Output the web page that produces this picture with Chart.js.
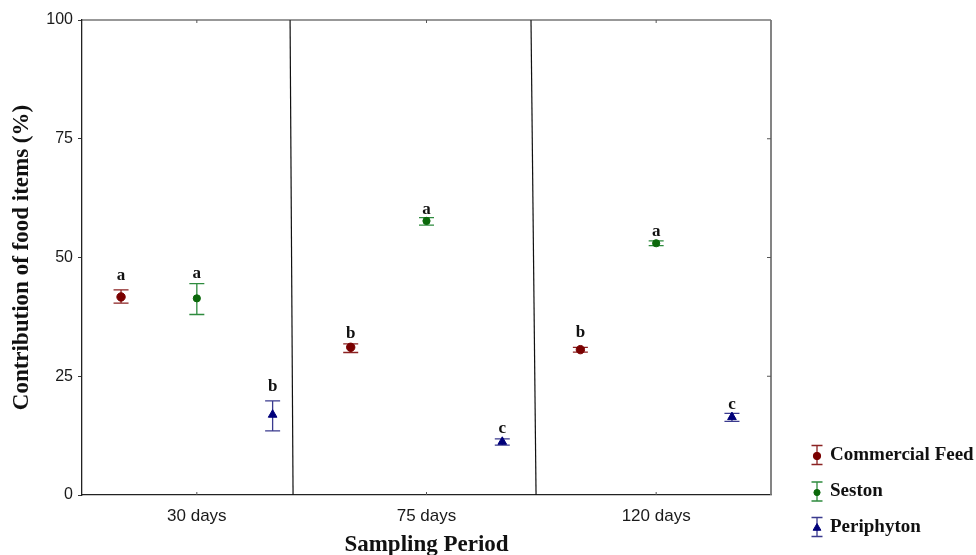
<!DOCTYPE html>
<html>
<head>
<meta charset="utf-8">
<script src="https://cdn.jsdelivr.net/npm/chart.js@4.4.1/dist/chart.umd.min.js"></script>
<style>
  html, body { margin: 0; padding: 0; background: #fff; }
  #wrap { width: 976px; height: 555px; position: relative; }
</style>
</head>
<body>
<div id="wrap"><canvas id="chart"></canvas></div>
<script>
// === Data ===
const periods = ['30 days', '75 days', '120 days'];
const yTicks = [0, 25, 50, 75, 100];

const feedMean = [41.7, 31.1, 30.6];
const feedLow = [40.4, 30.0, 30.1];
const feedHigh = [43.2, 31.8, 31.1];
const feedLetters = ['a', 'b', 'b'];
const feedLetterY = [46.2, 34.0, 34.2];

const sestonMean = [41.4, 57.7, 53.0];
const sestonLow = [38.0, 56.8, 52.5];
const sestonHigh = [44.5, 58.4, 53.5];
const sestonLetters = ['a', 'a', 'a'];
const sestonLetterY = [46.6, 60.0, 55.5];

const periMean = [16.9, 11.2, 16.4];
const periLow = [13.5, 10.5, 15.5];
const periHigh = [19.8, 11.8, 17.2];
const periLetters = ['b', 'c', 'c'];
const periLetterY = [22.8, 14.0, 19.0];

// hand drawn dividers between periods (x at top, x at bottom)
const dividerTop = [0.906, 1.955];
const dividerBottom = [0.919, 1.977];

// === Helpers ===
const SERIF = '"Liberation Serif", "Times New Roman", serif';
const SANS = '"Liberation Sans", Arial, sans-serif';

function points(values, shift) {
  return values.map((v, i) => ({ x: i + 0.5 + shift, y: v }));
}

function series(label, values, shift, low, high, letters, letterY, color, barColor, style, radius) {
  return {
    label, data: points(values, shift), low, high, letters, letterY, barColor,
    pointStyle: style, pointRadius: radius, backgroundColor: color,
    borderColor: color, borderWidth: 1, showLine: false
  };
}

function divider(i) {
  return {
    label: 'divider' + i,
    data: [{ x: dividerTop[i], y: 100 }, { x: dividerBottom[i], y: 0 }],
    showLine: true, pointRadius: 0, borderColor: '#111', borderWidth: 1.2
  };
}

const seriesList = [
  series('Commercial Feed', feedMean, -0.33, feedLow, feedHigh, feedLetters, feedLetterY, '#7a0000', '#8b2222', 'circle', 4.2),
  series('Seston', sestonMean, 0, sestonLow, sestonHigh, sestonLetters, sestonLetterY, '#0b680b', '#2e8b3e', 'circle', 3.6),
  series('Periphyton', periMean, 0.33, periLow, periHigh, periLetters, periLetterY, '#00007a', '#3a3a8e', 'triangle', 5)
];

// === Error bars, letters, frame and legend ===
const decor = {
  id: 'decor',
  beforeDatasetsDraw(chart) {
    const { ctx, scales: { x, y } } = chart;
    seriesList.forEach(ds => {
      ctx.save();
      ctx.strokeStyle = ds.barColor;
      ctx.lineWidth = 1.3;
      ds.data.forEach((p, i) => {
        const px = x.getPixelForValue(p.x);
        const y1 = y.getPixelForValue(ds.low[i]);
        const y2 = y.getPixelForValue(ds.high[i]);
        ctx.beginPath();
        ctx.moveTo(px, y1); ctx.lineTo(px, y2);
        ctx.moveTo(px - 7.5, y1); ctx.lineTo(px + 7.5, y1);
        ctx.moveTo(px - 7.5, y2); ctx.lineTo(px + 7.5, y2);
        ctx.stroke();
      });
      ctx.restore();
    });
  },
  afterDatasetsDraw(chart) {
    const { ctx, chartArea: a, scales: { x, y } } = chart;
    ctx.save();
    // letters of significance
    ctx.fillStyle = '#111';
    ctx.font = 'bold 17px ' + SERIF;
    ctx.textAlign = 'center';
    ctx.textBaseline = 'middle';
    seriesList.forEach(ds => {
      ds.data.forEach((p, i) => {
        ctx.fillText(ds.letters[i], x.getPixelForValue(p.x), y.getPixelForValue(ds.letterY[i]));
      });
    });
    // top and right frame
    ctx.lineWidth = 1.2;
    ctx.strokeStyle = '#333';
    ctx.beginPath(); ctx.moveTo(a.left, a.top); ctx.lineTo(a.right, a.top); ctx.stroke();
    ctx.strokeStyle = '#777';
    ctx.lineWidth = 1.8;
    ctx.beginPath(); ctx.moveTo(a.right, a.top); ctx.lineTo(a.right, a.bottom); ctx.stroke();
    // small inside ticks
    ctx.strokeStyle = '#555';
    ctx.lineWidth = 1;
    ctx.beginPath();
    periods.forEach((p, i) => {
      const px = x.getPixelForValue(i + 0.5);
      ctx.moveTo(px, a.bottom); ctx.lineTo(px, a.bottom - 3);
      ctx.moveTo(px, a.top); ctx.lineTo(px, a.top + 3);
    });
    yTicks.slice(1, -1).forEach(v => {
      const py = y.getPixelForValue(v);
      ctx.moveTo(a.right, py); ctx.lineTo(a.right - 4, py);
    });
    ctx.stroke();
    ctx.restore();
  },
  afterDraw(chart) {
    const { ctx } = chart;
    const rows = [455, 491.5, 527];
    ctx.save();
    seriesList.forEach((ds, i) => {
      const lx = 817, ly = rows[i];
      ctx.strokeStyle = ds.barColor;
      ctx.lineWidth = 1.3;
      ctx.beginPath();
      ctx.moveTo(lx, ly - 9.5); ctx.lineTo(lx, ly + 9.5);
      ctx.moveTo(lx - 5.5, ly - 9.5); ctx.lineTo(lx + 5.5, ly - 9.5);
      ctx.moveTo(lx - 5.5, ly + 9.5); ctx.lineTo(lx + 5.5, ly + 9.5);
      ctx.stroke();
      ctx.fillStyle = ds.backgroundColor;
      ctx.strokeStyle = ds.borderColor;
      ctx.lineWidth = 1;
      Chart.helpers.drawPoint(ctx, { pointStyle: ds.pointStyle, radius: ds.pointRadius - 0.5, borderWidth: 1, rotation: 0 }, lx, ly + 1);
      ctx.fillStyle = '#111';
      ctx.font = 'bold 19px ' + SERIF;
      ctx.textAlign = 'left';
      ctx.textBaseline = 'middle';
      ctx.fillText(ds.label, 830, ly);
    });
    ctx.restore();
  }
};

// === Chart ===
new Chart(document.getElementById('chart'), {
  type: 'scatter',
  data: { datasets: [...seriesList, divider(0), divider(1)] },
  options: {
    responsive: true,
    maintainAspectRatio: false,
    animation: false,
    layout: { padding: { top: 20, right: 205, left: 0, bottom: 0 } },
    plugins: { legend: { display: false }, tooltip: { enabled: false } },
    scales: {
      x: {
        type: 'linear', min: 0, max: 3,
        afterBuildTicks: s => { s.ticks = periods.map((p, i) => ({ value: i + 0.5 })); },
        afterFit: s => { s.height = 60; },
        ticks: {
          callback: v => periods[Math.round(v - 0.5)],
          font: { family: SANS, size: 17 }, color: '#1a1a1a', padding: 3, maxRotation: 0
        },
        grid: { display: false },
        border: { display: true, color: '#222', width: 1.3 },
        title: {
          display: true, text: 'Sampling Period',
          font: { family: SERIF, size: 23, weight: 'bold' }, color: '#111',
          padding: { top: 0, bottom: -4 }
        }
      },
      y: {
        min: 0, max: 100,
        afterBuildTicks: s => { s.ticks = yTicks.map(v => ({ value: v })); },
        afterFit: s => { s.width = 82; },
        ticks: { font: { family: SANS, size: 16 }, color: '#1a1a1a', padding: 5 },
        grid: { drawOnChartArea: false, drawTicks: true, tickLength: 4, color: '#333' },
        border: { display: true, color: '#222', width: 1.3 },
        title: {
          display: true, text: 'Contribution of food items (%)',
          font: { family: SERIF, size: 23, weight: 'bold' }, color: '#111',
          padding: { top: 8, bottom: 0 }
        }
      }
    }
  },
  plugins: [decor]
});
</script>
</body>
</html>
